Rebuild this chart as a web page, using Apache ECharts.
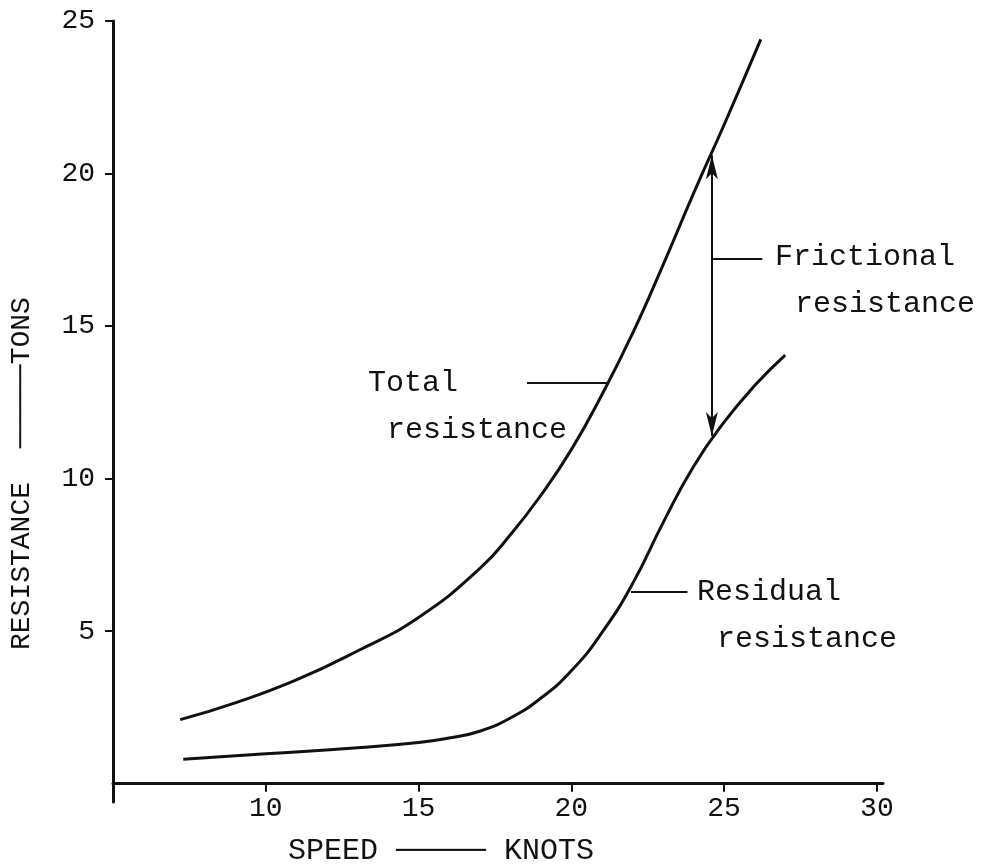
<!DOCTYPE html>
<html>
<head>
<meta charset="utf-8">
<title>Resistance vs speed</title>
<script src="https://cdn.jsdelivr.net/npm/echarts@6/dist/echarts.min.js"></script>
<style>
  html, body { margin: 0; padding: 0; background: #fff; }
  #chart { width: 987px; height: 868px; }
</style>
</head>
<body>
<div id="chart"></div>
<script>
// speed in knots, resistance in tons
const totalSpeed = [7.2, 9, 11, 13, 15, 17, 18, 19, 20, 21, 22, 23, 24, 25, 26.2]
const totalResistance = [2.1, 2.65, 3.4, 4.35, 5.45, 7.05, 8.15, 9.45, 10.95, 12.75, 14.75, 17.0, 19.35, 21.6, 24.4]

const residualSpeed = [7.3, 10, 13, 15, 16, 17, 18, 19, 20, 21, 22, 23, 24, 25, 26, 27]
const residualResistance = [0.8, 0.98, 1.18, 1.35, 1.5, 1.72, 2.15, 2.8, 3.7, 4.95, 6.55, 8.55, 10.4, 11.85, 13.05, 14.05]

// frictional resistance = gap between the two curves at this speed
const frictionSpeed = 24.6
const frictionRange = [20.6, 11.4]

const xTicks = [10, 15, 20, 25, 30]
const yTicks = [5, 10, 15, 20, 25]

const ink = '#111'
const mono = '"Liberation Mono", "DejaVu Sans Mono", monospace'

const chart = echarts.init(document.getElementById('chart'))

function pairs(xs, ys) {
  return xs.map((x, i) => [x, ys[i]])
}

function leader(x1, x2, y) {
  return [{ coord: [x1, y] }, { coord: [x2, y] }]
}

function label(text, x, y) {
  return {
    type: 'text',
    x: x,
    y: y,
    style: {
      text: text,
      font: '30px ' + mono,
      fill: ink,
      align: 'left',
      verticalAlign: 'middle',
    },
  }
}

const option = {
  backgroundColor: '#fff',
  animation: false,
  grid: {
    left: 113,
    right: 104,
    top: 21,
    bottom: 66,
  },
  xAxis: {
    type: 'value',
    min: 5,
    max: 30.2,
    axisLine: {
      onZero: true,
      lineStyle: { color: ink, width: 3 },
    },
    axisTick: {
      customValues: xTicks,
      length: 8,
      lineStyle: { color: ink, width: 2 },
    },
    axisLabel: {
      customValues: xTicks,
      margin: -7,
      color: ink,
      fontSize: 28,
      fontFamily: mono,
    },
    splitLine: { show: false },
  },
  yAxis: {
    type: 'value',
    min: -0.6,
    max: 25,
    axisLine: {
      show: true,
      lineStyle: { color: ink, width: 3 },
    },
    axisTick: {
      show: true,
      customValues: yTicks,
      length: 8,
      lineStyle: { color: ink, width: 2 },
    },
    axisLabel: {
      customValues: yTicks,
      margin: 18,
      color: ink,
      fontSize: 28,
      fontFamily: mono,
    },
    splitLine: { show: false },
  },
  series: [
    {
      name: 'Total resistance',
      type: 'line',
      smooth: 0.5,
      symbol: 'none',
      lineStyle: { color: ink, width: 3 },
      data: pairs(totalSpeed, totalResistance),
      markLine: {
        silent: true,
        symbol: 'none',
        label: { show: false },
        lineStyle: { color: ink, width: 2, type: 'solid' },
        data: [
          leader(18.55, 21.2, 13.15),
          leader(frictionSpeed, 26.25, 17.2),
          leader(21.95, 23.8, 6.3),
          [
            { coord: [frictionSpeed, frictionRange[0]], symbol: 'arrow' },
            { coord: [frictionSpeed, frictionRange[1]], symbol: 'arrow' },
          ],
        ],
        symbolSize: [9, 24],
      },
    },
    {
      name: 'Residual resistance',
      type: 'line',
      smooth: 0.5,
      symbol: 'none',
      lineStyle: { color: ink, width: 3 },
      data: pairs(residualSpeed, residualResistance),
    },
  ],
  graphic: [
    label('Total', 368, 383),
    label('resistance', 387, 430),
    label('Frictional', 775, 257),
    label('resistance', 795, 304),
    label('Residual', 697, 592),
    label('resistance', 717, 639),
    label('SPEED \u2500\u2500\u2500\u2500\u2500 KNOTS', 288, 851),
    {
      type: 'text',
      x: 22,
      y: 650,
      rotation: Math.PI / 2,
      style: {
        text: 'RESISTANCE  \u2500\u2500\u2500\u2500\u2500TONS',
        font: '28px ' + mono,
        fill: ink,
        align: 'left',
        verticalAlign: 'middle',
      },
    },
  ],
}

chart.setOption(option)
</script>
</body>
</html>
